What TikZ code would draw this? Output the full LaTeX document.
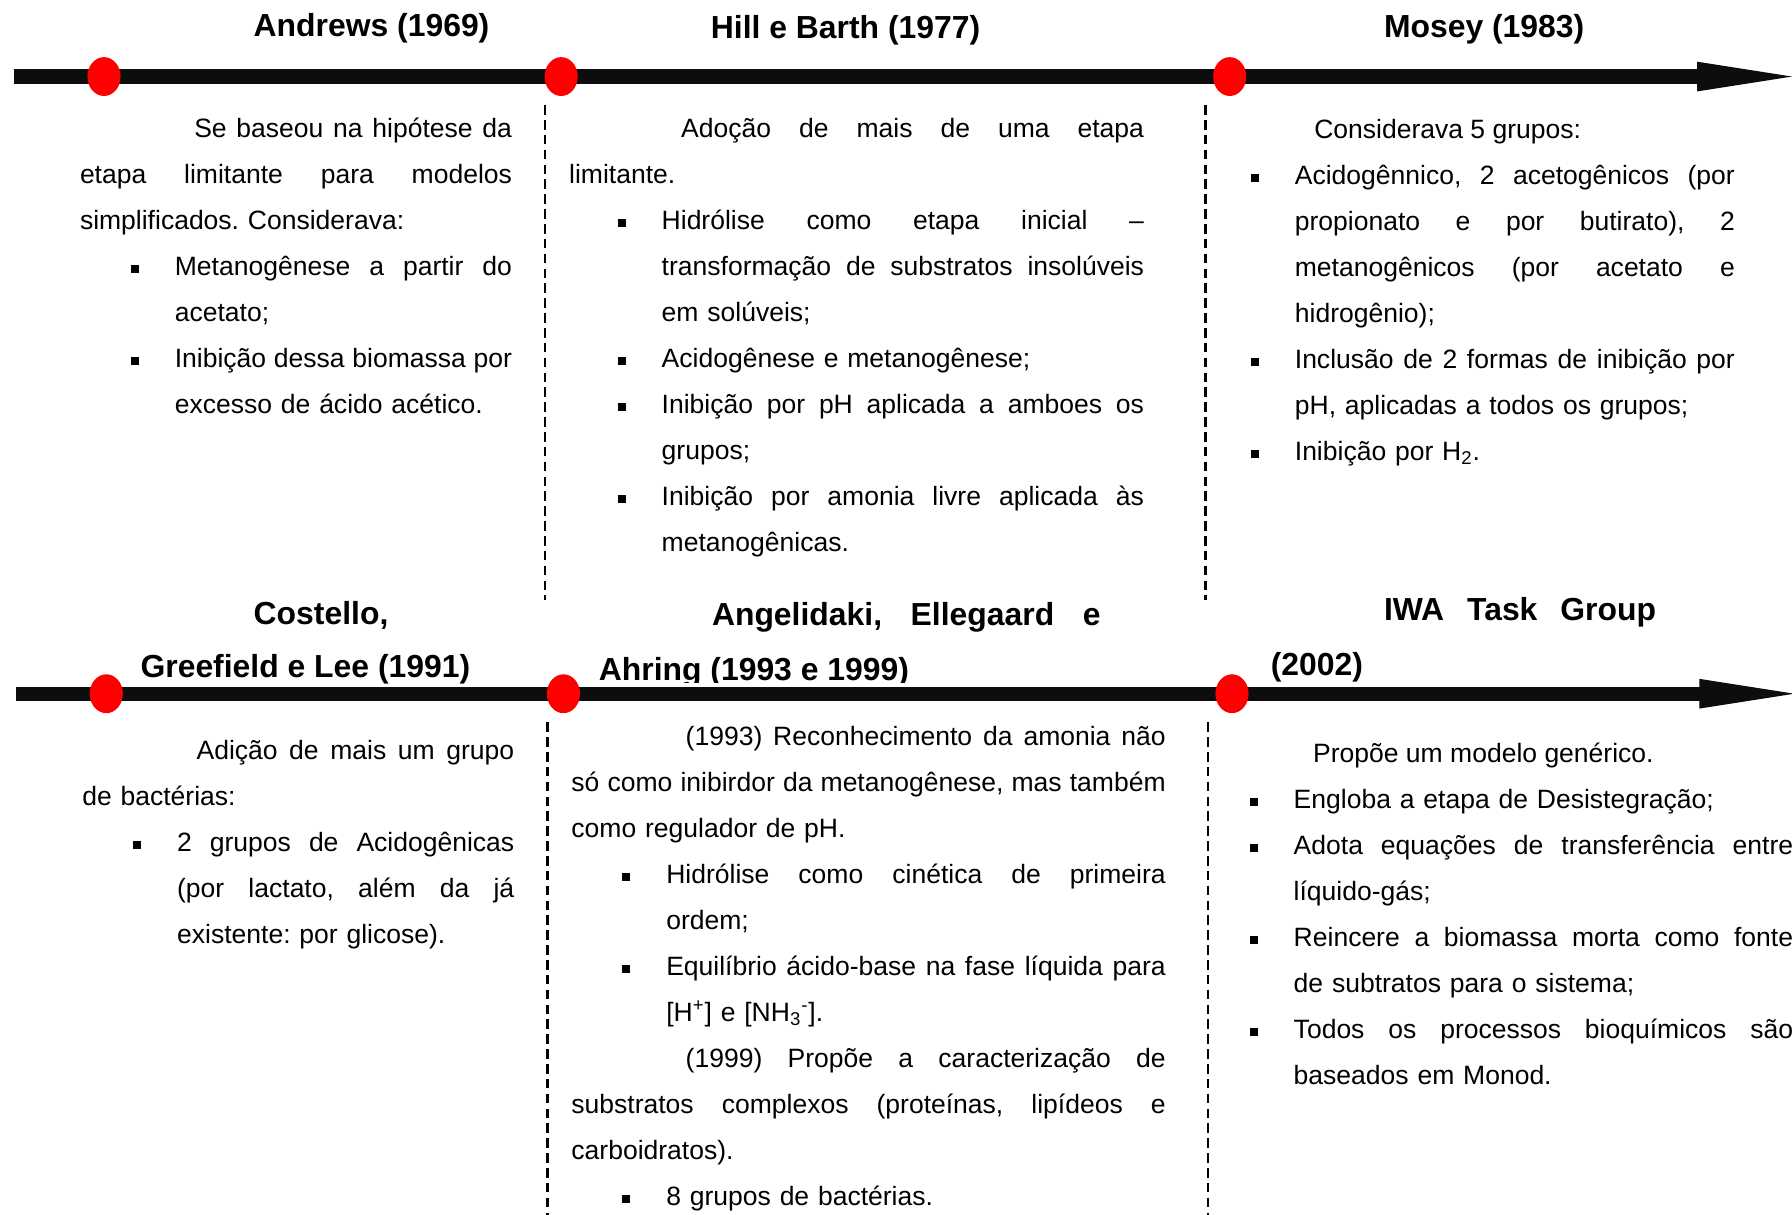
\documentclass[tikz,border=0pt]{standalone}
\usepackage{fontspec}
\setmainfont{Liberation Sans}
\usetikzlibrary{shapes.geometric}
\definecolor{barblack}{HTML}{0D0D0D}
\definecolor{dotred}{HTML}{FF0000}
\newcommand\Jl[1]{\makebox[\linewidth][s]{\spaceskip=0pt\xspaceskip=0pt\relax #1}}
\newcommand\Ji[2]{\hspace*{#1}\makebox[\dimexpr\linewidth-#1\relax][s]{\spaceskip=0pt\xspaceskip=0pt\relax #2}}
\newcommand\bul{\leavevmode\llap{\raisebox{1.3pt}{\rule{4.2pt}{4.2pt}}\hspace{18.9pt}}}
\tikzset{
  bodytext/.style={anchor=base west, inner sep=0pt, outer sep=0pt, yshift=-1.2pt,
    font=\fontsize{13.92pt}{24.15pt}\selectfont\frenchspacing},
  ttl/.style={anchor=base west, inner sep=0pt, outer sep=0pt,
    font=\fontsize{16.74pt}{20pt}\selectfont\bfseries\frenchspacing},
  dot/.style={ellipse, fill=dotred, draw=none, minimum width=17.4pt, minimum height=20.4pt, inner sep=0pt},
  timebar/.style={line width=7.5pt, draw=barblack, line cap=butt},
  arrowhead/.style={fill=barblack},
  divider/.style={line width=1.3pt, draw=black, dash pattern=on 5pt off 2.8pt}
}
\begin{document}
\begin{tikzpicture}[x=0.6pt, y=-0.6pt]
\useasboundingbox (0,0) rectangle (1568,1063);

% ---------- timelines ----------
\coordinate (ta) at (12,67);
\coordinate (tb) at (1490,67);
\coordinate (tbase1) at (1485,54);
\coordinate (ttip) at (1568,67);
\coordinate (tbase2) at (1485,80);
\draw[timebar] (ta) -- (tb);
\fill[arrowhead] (tbase1) -- (ttip) -- (tbase2) -- cycle;

\coordinate (ba) at (14,607);
\coordinate (bb) at (1492,607);
\coordinate (bbase1) at (1487,594);
\coordinate (btip) at (1570,607);
\coordinate (bbase2) at (1487,620);
\draw[timebar] (ba) -- (bb);
\fill[arrowhead] (bbase1) -- (btip) -- (bbase2) -- cycle;

% ---------- dots ----------
\node[dot] (d1) at (91,67) {};
\node[dot] (d2) at (491,67) {};
\node[dot] (d3) at (1076,67) {};
\node[dot] (d4) at (93,607) {};
\node[dot] (d5) at (493,607) {};
\node[dot] (d6) at (1078,607) {};

% ---------- dividers ----------
\coordinate (v1a) at (477,92);  \coordinate (v1b) at (477,525);
\coordinate (v2a) at (1055,92); \coordinate (v2b) at (1055,525);
\coordinate (v3a) at (479,632); \coordinate (v3b) at (479,1063);
\coordinate (v4a) at (1057,632);\coordinate (v4b) at (1057,1063);
\draw[divider] (v1a) -- (v1b);
\draw[divider] (v2a) -- (v2b);
\draw[divider] (v3a) -- (v3b);
\draw[divider] (v4a) -- (v4b);

% ---------- titles ----------
\node[ttl] (t1) at (222,32) {Andrews (1969)};
\node[ttl] (t2) at (622,34) {Hill e Barth (1977)};
\node[ttl] (t3) at (1211,33) {Mosey (1983)};
\node[ttl] (t4a) at (222,546) {Costello,};
\node[ttl] (t4b) at (123,593) {Greefield e Lee (1991)};
\node[ttl] (t5a) at (623,547) {\makebox[204pt][s]{Angelidaki, Ellegaard e}};
\begin{scope}
  \clip (500,540) rectangle (1000,597);
  \node[ttl] (t5b) at (524,595) {Ahring (1993 e 1999)};
\end{scope}
\node[ttl] (t6a) at (1211,543) {\makebox[142.8pt][s]{IWA Task Group}};
\node[ttl] (t6b) at (1112,591) {(2002)};

% ---------- top column 1 ----------
\node[bodytext, text width=226.8pt] (a1) at (70,118.5)
  {\Ji{60pt}{Se baseou na hipótese da}\\
   \Jl{etapa limitante para modelos}\\
   simplificados. Considerava:};
\node[bodytext, text width=177pt] (a2) at (153,239.25)
  {\bul\Jl{Metanogênese a partir do}\\
   acetato;};
\node[bodytext, text width=177pt] (a3) at (153,319.75)
  {\bul\Jl{Inibição dessa biomassa por}\\
   excesso de ácido acético.};

% ---------- top column 2 ----------
\node[bodytext, text width=301.8pt] (h1) at (498,118.5)
  {\Ji{58.8pt}{Adoção de mais de uma etapa}\\
   limitante.};
\node[bodytext, text width=253.2pt] (h2) at (579,199)
  {\bul\Jl{Hidrólise como etapa inicial –}\\
   \Jl{transformação de substratos insolúveis}\\
   em solúveis;};
\node[bodytext, text width=253.2pt] (h3) at (579,319.75)
  {\bul Acidogênese e metanogênese;};
\node[bodytext, text width=253.2pt] (h4) at (579,360)
  {\bul\Jl{Inibição por pH aplicada a amboes os}\\
   grupos;};
\node[bodytext, text width=253.2pt] (h5) at (579,440.5)
  {\bul\Jl{Inibição por amonia livre aplicada às}\\
   metanogênicas.};

% ---------- top column 3 ----------
\node[bodytext] (m1) at (1150,119.5) {Considerava 5 grupos:};
\node[bodytext, text width=231pt] (m2) at (1133,159.75)
  {\bul\Jl{Acidogênnico, 2 acetogênicos (por}\\
   \Jl{propionato e por butirato), 2}\\
   \Jl{metanogênicos (por acetato e}\\
   hidrogênio);};
\node[bodytext, text width=231pt] (m3) at (1133,320.75)
  {\bul\Jl{Inclusão de 2 formas de inibição por}\\
   pH, aplicadas a todos os grupos;};
\node[bodytext, text width=231pt] (m4) at (1133,401.25)
  {\bul Inibição por H\textsubscript{2}.};

% ---------- bottom column 1 ----------
\node[bodytext, text width=226.8pt] (c1) at (72,662.5)
  {\Ji{60pt}{Adição de mais um grupo}\\
   de bactérias:};
\node[bodytext, text width=177pt] (c2) at (155,743)
  {\bul\Jl{2 grupos de Acidogênicas}\\
   \Jl{(por lactato, além da já}\\
   existente: por glicose).};

% ---------- bottom column 2 ----------
\node[bodytext, text width=312pt] (g1) at (500,650.5)
  {\Ji{60pt}{(1993) Reconhecimento da amonia não}\\
   \Jl{só como inibirdor da metanogênese, mas também}\\
   como regulador de pH.};
\node[bodytext, text width=262.2pt] (g2) at (583,771.25)
  {\bul\Jl{Hidrólise como cinética de primeira}\\
   ordem;};
\node[bodytext, text width=262.2pt] (g3) at (583,851.75)
  {\bul\Jl{Equilíbrio ácido-base na fase líquida para}\\
   \relax[H\textsuperscript{+}] e [NH\textsubscript{3}\textsuperscript{-}].};
\node[bodytext, text width=312pt] (g4) at (500,932.25)
  {\Ji{60pt}{(1999) Propõe a caracterização de}\\
   \Jl{substratos complexos (proteínas, lipídeos e}\\
   carboidratos).};
\node[bodytext, text width=262.2pt] (g5) at (583,1053)
  {\bul 8 grupos de bactérias.};

% ---------- bottom column 3 ----------
\node[bodytext] (w1) at (1149,665.5) {Propõe um modelo genérico.};
\node[bodytext, text width=262.2pt] (w2) at (1132,705.75)
  {\bul Engloba a etapa de Desistegração;};
\node[bodytext, text width=262.2pt] (w3) at (1132,746)
  {\bul\Jl{Adota equações de transferência entre}\\
   líquido-gás;};
\node[bodytext, text width=262.2pt] (w4) at (1132,826.5)
  {\bul\Jl{Reincere a biomassa morta como fonte}\\
   de subtratos para o sistema;};
\node[bodytext, text width=262.2pt] (w5) at (1132,907)
  {\bul\Jl{Todos os processos bioquímicos são}\\
   baseados em Monod.};
\end{tikzpicture}
\end{document}
